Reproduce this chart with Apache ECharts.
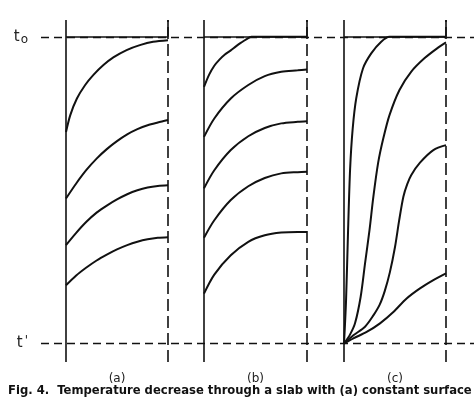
<!DOCTYPE html>
<html><head><meta charset="utf-8">
<script src="https://cdn.jsdelivr.net/npm/echarts@6/dist/echarts.min.js"></script>
<style>html,body{margin:0;padding:0;background:#fff}#c{width:474px;height:397px}</style>
</head><body><div id="c"></div>
<script>
// Temperature scale: t' = 0, t0 = 1 ; x = fraction of slab thickness
const PANEL_NAMES = ['(a)', '(b)', '(c)'];
const Y_TICKS = [0, 1];
const Y_TICK_LABELS = ["t'", 't0'];
const CAPTION = 'Fig. 4.  Temperature decrease through a slab with (a) constant surface';

// (a)
const X_A1 = [0, 0.042, 0.107, 0.188, 0.269, 0.367, 0.464, 0.594, 0.724, 0.854, 1];
const A1 = [0.690, 0.745, 0.799, 0.843, 0.876, 0.908, 0.933, 0.957, 0.973, 0.984, 0.989];
const X_A = [0, 0.1, 0.2, 0.3, 0.4, 0.5, 0.6, 0.7, 0.8, 0.9, 1];
const A2 = [0.473, 0.522, 0.566, 0.603, 0.634, 0.660, 0.682, 0.699, 0.712, 0.721, 0.729];
const A3 = [0.321, 0.361, 0.397, 0.427, 0.450, 0.470, 0.487, 0.500, 0.509, 0.514, 0.516];
const A4 = [0.190, 0.222, 0.248, 0.271, 0.290, 0.307, 0.321, 0.332, 0.340, 0.345, 0.347];
// (b)
const X_B1 = [0, 0.05, 0.10, 0.15, 0.20, 0.26, 0.31, 0.36, 0.41, 0.46, 1];
const B1 = [0.837, 0.877, 0.906, 0.926, 0.942, 0.956, 0.969, 0.981, 0.992, 1, 1];
const X_B = [0, 0.10, 0.26, 0.43, 0.59, 0.75, 0.91, 1];
const B2 = [0.674, 0.734, 0.799, 0.843, 0.872, 0.886, 0.891, 0.894];
const B3 = [0.506, 0.565, 0.631, 0.676, 0.703, 0.718, 0.723, 0.725];
const B4 = [0.345, 0.402, 0.468, 0.513, 0.540, 0.555, 0.559, 0.560];
const B5 = [0.163, 0.225, 0.288, 0.332, 0.353, 0.362, 0.364, 0.364];
// (c)
const X_C1 = [0, 0.02, 0.04, 0.06, 0.085, 0.12, 0.186, 0.267, 0.365, 0.446, 1];
const C1 = [0, 0.14, 0.37, 0.57, 0.70, 0.80, 0.897, 0.946, 0.984, 1, 1];
const X_C2 = [0, 0.06, 0.108, 0.163, 0.206, 0.25, 0.288, 0.335, 0.386, 0.446, 0.544, 0.658, 0.788, 0.919, 1];
const C2 = [0, 0.03, 0.066, 0.152, 0.261, 0.37, 0.479, 0.59, 0.67, 0.745, 0.827, 0.886, 0.930, 0.964, 0.982];
const X_C3 = [0, 0.092, 0.206, 0.288, 0.35, 0.40, 0.45, 0.50, 0.54, 0.582, 0.62, 0.66, 0.745, 0.876, 1];
const C3 = [0, 0.027, 0.055, 0.092, 0.127, 0.172, 0.233, 0.315, 0.40, 0.479, 0.52, 0.55, 0.59, 0.631, 0.647];
const X_C4 = [0, 0.092, 0.222, 0.353, 0.484, 0.614, 0.745, 0.876, 1];
const C4 = [0, 0.017, 0.038, 0.066, 0.103, 0.147, 0.180, 0.207, 0.229];

const Y_MIN = -0.06, Y_MAX = 1.055;
const INK = '#111';

const zip = (xs, ys) => xs.map((x, i) => [x, ys[i]]);
const curves = [
  [[X_A1, A1], [X_A, A2], [X_A, A3], [X_A, A4]],
  [[X_B1, B1], [X_B, B2], [X_B, B3], [X_B, B4], [X_B, B5]],
  [[X_C1, C1], [X_C2, C2], [X_C3, C3], [X_C4, C4]]
];

const panelLeft = [66, 204, 344];
const panelWidth = [102, 103, 102];

const grids = [{ left: 41, right: 0, top: 20, height: 342, outerBoundsMode: 'none' }];
const xAxes = [{ gridIndex: 0, type: 'value', min: 0, max: 1, show: false }];
const yAxes = [{
  gridIndex: 0, type: 'value', min: Y_MIN, max: Y_MAX,
  axisLine: { show: false }, axisTick: { show: false }, splitLine: { show: false },
  axisLabel: {
    customValues: Y_TICKS, margin: 13, color: '#222',
    formatter: v => {
      const s = Y_TICK_LABELS[Y_TICKS.indexOf(v)];
      return s === 't0' ? '{t|t}{s|o}' : '{t|t}{p|\'}';
    },
    rich: {
      t: { fontFamily: 'DejaVu Sans', fontSize: 15, color: '#222' },
      s: { fontFamily: 'DejaVu Sans', fontSize: 12, color: '#222', padding: [7, 0, 0, 1] },
      p: { fontFamily: 'DejaVu Sans', fontSize: 12, color: '#222', padding: [0, 0, 5, 2] }
    }
  }
}];
const series = [{
  type: 'line', xAxisIndex: 0, yAxisIndex: 0, data: [], silent: true,
  markLine: {
    silent: true, symbol: ['none', 'none'], label: { show: false },
    lineStyle: { color: INK, width: 1.3, type: [8, 5] },
    data: [{ yAxis: 1 }, { yAxis: 0 }]
  }
}];

PANEL_NAMES.forEach((name, p) => {
  const gi = p + 1;
  grids.push({ left: panelLeft[p], width: panelWidth[p], top: 20, height: 342, outerBoundsMode: 'none' });
  xAxes.push({
    gridIndex: gi, type: 'value', min: 0, max: 1,
    axisLine: { show: false }, axisTick: { show: false }, axisLabel: { show: false }, splitLine: { show: false },
    name: name, nameLocation: 'middle', nameGap: 11,
    nameTextStyle: { fontFamily: 'DejaVu Sans', fontSize: 12, color: '#222' }
  });
  yAxes.push({ gridIndex: gi, type: 'value', min: Y_MIN, max: Y_MAX, show: false });
  series.push({
    type: 'line', xAxisIndex: gi, yAxisIndex: gi, data: [], silent: true,
    markLine: {
      silent: true, symbol: ['none', 'none'], label: { show: false },
      lineStyle: { color: INK, width: 1.6, type: 'solid' },
      data: [
        { xAxis: 0 },
        { yAxis: 1, lineStyle: { width: 1.5 } },
        { xAxis: 1, lineStyle: { type: [12, 5], width: 1.6 } },
        [{ coord: [1, 1] }, { coord: [1, Y_MAX] }]
      ]
    }
  });
  curves[p].forEach(([xs, ys]) => {
    series.push({
      type: 'line', xAxisIndex: gi, yAxisIndex: gi, data: zip(xs, ys),
      showSymbol: false, smooth: 0.3, silent: true,
      lineStyle: { color: INK, width: 2 }
    });
  });
});

const chart = echarts.init(document.getElementById('c'), null, { renderer: 'canvas' });
chart.setOption({
  backgroundColor: '#fff',
  animation: false,
  title: {
    text: CAPTION, left: 3, top: 380,
    textStyle: { fontFamily: 'DejaVu Sans', fontSize: 11.6, fontWeight: 'bold', color: '#111' }
  },
  grid: grids, xAxis: xAxes, yAxis: yAxes, series: series
});
</script></body></html>
